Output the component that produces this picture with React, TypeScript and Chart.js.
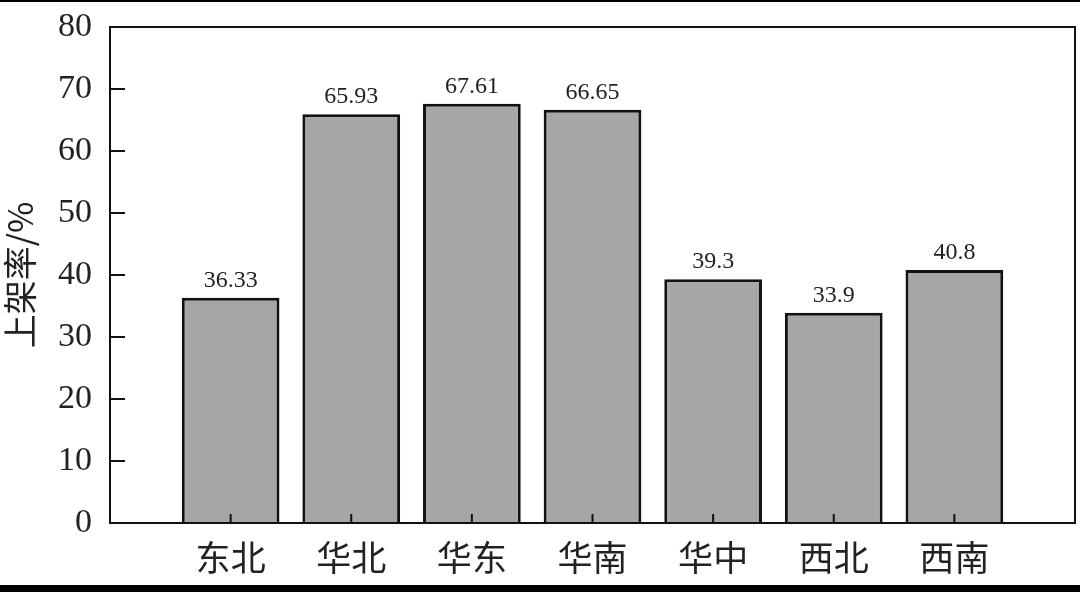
import React, { useEffect, useRef } from "react";
import { Chart, registerables, ChartOptions, Plugin } from "chart.js";

Chart.register(...registerables);

// 区域与上架率数据
const regions: string[] = ["东北", "华北", "华东", "华南", "华中", "西北", "西南"];
const shelfRates: number[] = [36.33, 65.93, 67.61, 66.65, 39.3, 33.9, 40.8];
const rateLabels: string[] = ["36.33", "65.93", "67.61", "66.65", "39.3", "33.9", "40.8"];
const yTicks: number[] = [0, 10, 20, 30, 40, 50, 60, 70, 80];

const SERIF = "'Liberation Serif', 'DejaVu Serif', serif";
const CJK = "'Noto Sans CJK SC', sans-serif";

// frame + inward tick marks + value labels above the bars
const framePlugin: Plugin<"bar"> = {
  id: "frameTicks",
  afterDatasetsDraw(chart) {
    const { ctx, chartArea, scales } = chart;
    const x = scales.x;
    const y = scales.y;
    ctx.save();
    ctx.strokeStyle = "#111";
    ctx.lineWidth = 2;
    ctx.strokeRect(chartArea.left, chartArea.top, chartArea.right - chartArea.left, chartArea.bottom - chartArea.top);

    // y ticks, pointing inside
    yTicks.forEach((v) => {
      const py = y.getPixelForValue(v);
      ctx.beginPath();
      ctx.moveTo(chartArea.left, py);
      ctx.lineTo(chartArea.left + 15, py);
      ctx.stroke();
    });
    // x ticks at bar centres
    regions.forEach((_, i) => {
      const px = x.getPixelForValue(i + 1);
      ctx.beginPath();
      ctx.moveTo(px, chartArea.bottom);
      ctx.lineTo(px, chartArea.bottom - 9);
      ctx.stroke();
    });

    // value labels
    const meta = chart.getDatasetMeta(0);
    ctx.fillStyle = "#222";
    ctx.font = `24px ${SERIF}`;
    ctx.textAlign = "center";
    ctx.textBaseline = "alphabetic";
    meta.data.forEach((bar: any, i: number) => {
      ctx.fillText(rateLabels[i], bar.x, bar.y - 11);
    });
    ctx.restore();
  },
};

const App: React.FC = () => {
  const canvasRef = useRef<HTMLCanvasElement>(null);

  useEffect(() => {
    if (!canvasRef.current) return;
    const ctx = canvasRef.current.getContext("2d")!;

    const chart = new Chart(ctx, {
      type: "bar",
      data: {
        datasets: [
          {
            label: "上架率",
            data: shelfRates.map((v, i) => ({ x: i + 1, y: v })) as any,
            backgroundColor: "#a6a6a6",
            borderColor: "#111",
            borderWidth: 3,
            barPercentage: 0.81,
            categoryPercentage: 1.0,
          },
        ],
      },
      options: {
        animation: false,
        responsive: false,
        maintainAspectRatio: false,
        layout: { padding: { top: 27, right: 5, left: 0, bottom: 0 } },
        plugins: {
          legend: { display: false },
          tooltip: { enabled: false },
        },
        scales: {
          x: {
            type: "linear",
            min: 0,
            max: 8,
            offset: false,
            grid: { display: false, drawTicks: false },
            border: { display: false },
            afterFit: (s: any) => {
              s.height = 69;
              s.paddingLeft = 0;
              s.paddingRight = 0;
            },
            afterBuildTicks: (s: any) => {
              s.ticks = regions.map((_, i) => ({ value: i + 1 }));
            },
            ticks: {
              autoSkip: false,
              maxRotation: 0,
              padding: 14,
              color: "#222",
              font: { family: CJK, size: 35 },
              callback: (v: any) => regions[Number(v) - 1] ?? "",
            },
          },
          y: {
            min: 0,
            max: 80,
            grid: { display: false, drawTicks: false },
            border: { display: false },
            afterFit: (s: any) => {
              s.width = 110;
              s.paddingTop = 0;
              s.paddingBottom = 0;
            },
            ticks: {
              stepSize: 10,
              padding: 18,
              color: "#222",
              font: { family: SERIF, size: 34 },
            },
            title: {
              display: true,
              text: "上架率/%",
              color: "#222",
              font: { family: CJK, size: 34 },
              padding: { top: 0, bottom: 0 },
            },
          },
        },
      } as ChartOptions<"bar">,
      plugins: [framePlugin],
    });

    return () => {
      chart.destroy();
    };
  }, []);

  return (
    <div style={{ position: "fixed", left: 0, top: 0, width: 1080, height: 592, background: "#fff", overflow: "hidden" }}>
      <canvas ref={canvasRef} width={1080} height={592} style={{ position: "absolute", left: 0, top: 0, width: 1080, height: 592 }} />
      <div style={{ position: "absolute", left: 0, top: 0, width: 1080, height: 2, background: "#000" }} />
      <div style={{ position: "absolute", left: 0, top: 585, width: 1080, height: 7, background: "#000" }} />
    </div>
  );
};

export default App;
